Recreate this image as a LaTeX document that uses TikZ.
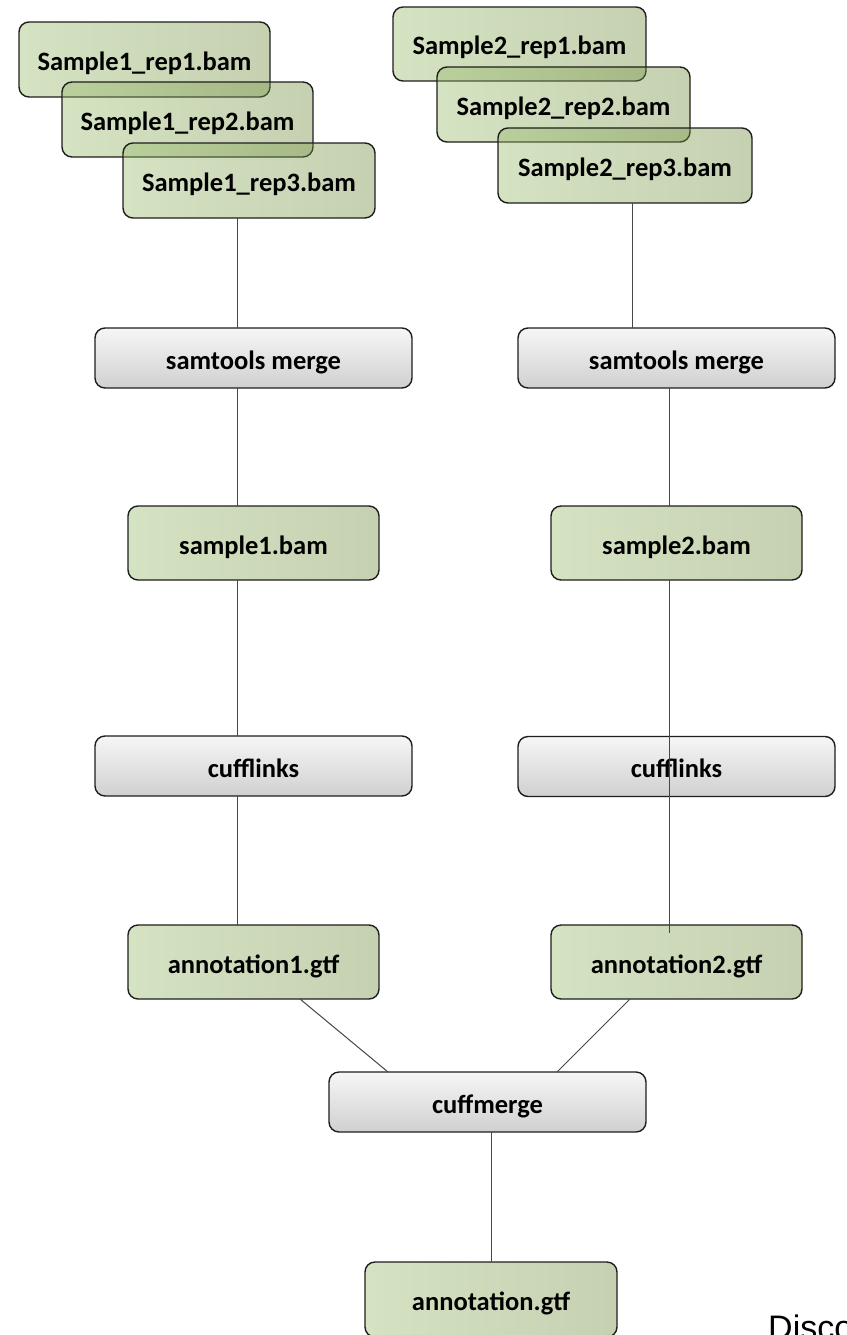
\documentclass[tikz,border=0pt]{standalone}
\usepackage{fontspec}
\setmainfont{Carlito}
\newfontfamily\discofont{Liberation Sans}
\usetikzlibrary{calc}
\definecolor{gA}{RGB}{150,186,104}
\definecolor{gB}{RGB}{112,140,62}
\definecolor{grA}{RGB}{246,246,246}
\definecolor{grB}{RGB}{208,208,208}
\definecolor{edge}{RGB}{30,30,30}
\definecolor{conn}{RGB}{70,70,70}
\tikzset{
  greenbox/.style={draw=edge, line width=1.4pt, rounded corners=10pt,
    left color=gA, right color=gB, fill opacity=0.4, text opacity=1,
    inner sep=0pt, outer sep=0pt, minimum width=251pt, minimum height=75pt,
    text height=26pt, text depth=4pt,
    font=\fontsize{26.5}{30}\selectfont\bfseries},
  graybox/.style={draw=edge, line width=1.4pt, rounded corners=10pt,
    top color=grA, bottom color=grB,
    inner sep=0pt, outer sep=0pt, minimum width=317pt, minimum height=60pt,
    text height=26pt, text depth=4pt,
    font=\fontsize{26.5}{30}\selectfont\bfseries},
  conline/.style={draw=conn, line width=1pt},
}
\begin{document}
\begin{tikzpicture}[x=1pt,y=-1pt]
\useasboundingbox (0,0) rectangle (846,1335);
\fill[white] (0,0) rectangle (846,1335);
\coordinate (xL) at (237,0);
\coordinate (xRa) at (632,0);
\coordinate (xRb) at (669,0);
\coordinate (xC) at (491,0);
% sample 1 replicates
\node[greenbox] (s1r1) at (144.5,59.5) {Sample1\_rep1.bam};
\node[greenbox] (s1r2) at (187.5,119.5) {Sample1\_rep2.bam};
\node[greenbox, minimum width=252pt] (s1r3) at (249,180.5) {Sample1\_rep3.bam};
% sample 2 replicates
\node[greenbox, minimum width=253pt, minimum height=74pt] (s2r1) at (519.5,44) {Sample2\_rep1.bam};
\node[greenbox, minimum width=253pt] (s2r2) at (563.5,104.5) {Sample2\_rep2.bam};
\node[greenbox, minimum width=254pt] (s2r3) at (625,165.5) {Sample2\_rep3.bam};
% processing
\node[graybox] (smL) at (253.5,358) {samtools merge};
\node[graybox] (smR) at (676.5,358) {samtools merge};
\node[greenbox, minimum height=74pt] (s1) at (253.5,543) {sample1.bam};
\node[greenbox, minimum height=74pt] (s2) at (676.5,543) {sample2.bam};
\node[graybox] (cfL) at (253.5,766) {cufflinks};
\node[graybox] (cfR) at (676.5,766.5) {cufflinks};
\node[greenbox, minimum height=74pt] (a1) at (253.5,962) {annotation1.gtf};
\node[greenbox, minimum height=74pt] (a2) at (676.5,962) {annotation2.gtf};
\node[graybox] (cm) at (487.5,1102) {cuffmerge};
\node[greenbox, minimum width=252pt] (ann) at (491,1299.5) {annotation.gtf};
% connectors
\draw[conline] (s1r3.south -| xL) -- (smL.north -| xL);
\draw[conline] (smL.south -| xL) -- (s1.north -| xL);
\draw[conline] (s1.south -| xL) -- (cfL.north -| xL);
\draw[conline] (cfL.south -| xL) -- (a1.north -| xL);
\draw[conline] (s2r3.south -| xRa) -- (smR.north -| xRa);
\draw[conline] (smR.south -| xRb) -- (s2.north -| xRb);
\coordinate (a2in) at ($(a2.north -| xRb)+(0,8)$);
\draw[conline] (s2.south -| xRb) -- (a2in);
\draw[conline] ($(a1.south)+(46.5,0)$) -- ($(cm.north)+(-99.5,0)$);
\draw[conline] ($(a2.south)+(-46.5,0)$) -- ($(cm.north)+(69.5,0)$);
\draw[conline] (cm.south -| xC) -- (ann.north -| xC);
% cut-off text at the lower right
\node[anchor=base west, inner sep=0pt, font=\discofont\fontsize{34}{38}\selectfont] (disco) at (768,1339) {Disco};
\end{tikzpicture}
\end{document}
